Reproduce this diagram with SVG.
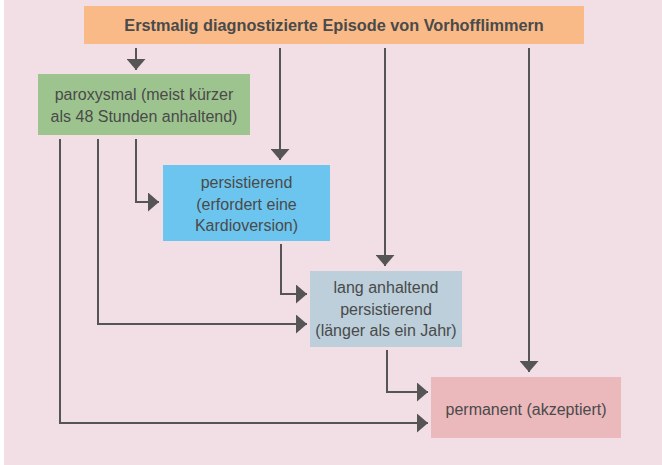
<svg xmlns="http://www.w3.org/2000/svg" width="662" height="465" viewBox="0 0 662 465">
<style>
.t{font-family:"Liberation Sans",Arial,sans-serif;font-size:16px;fill:#4a4a4a;text-anchor:middle}
.b{font-weight:bold;font-size:16.3px}
.c{fill:none;stroke:#555555;stroke-width:2}
</style>
<defs>
<marker id="ah" markerUnits="userSpaceOnUse" markerWidth="11" markerHeight="19" refX="11" refY="9.5" orient="auto" viewBox="0 0 11 19">
<path d="M0,0 L11,9.5 L0,19 z" fill="#555555"/>
</marker>
</defs>
<rect x="0" y="0" width="662" height="465" fill="#ffffff"/>
<rect x="4" y="0" width="658" height="465" fill="#f2dfe5"/>
<g id="connectors">
<path class="c" d="M136,48 V70" marker-end="url(#ah)"/>
<path class="c" d="M280,48 V160" marker-end="url(#ah)"/>
<path class="c" d="M385,48 V266" marker-end="url(#ah)"/>
<path class="c" d="M529,48 V372" marker-end="url(#ah)"/>
<path class="c" d="M136,139 V202 H159" marker-end="url(#ah)"/>
<path class="c" d="M98,139 V324 H307" marker-end="url(#ah)"/>
<path class="c" d="M60,139 V423 H428" marker-end="url(#ah)"/>
<path class="c" d="M281,244 V294 H307" marker-end="url(#ah)"/>
<path class="c" d="M387,350 V392 H428" marker-end="url(#ah)"/>
</g>
<g id="start">
<rect x="84" y="6" width="500" height="38" fill="#f9ba87"/>
<text class="t b" x="334" y="31">Erstmalig diagnostizierte Episode von Vorhofflimmern</text>
</g>
<g id="paroxysmal">
<rect x="38" y="74" width="212" height="61" fill="#9dc48e"/>
<text class="t" x="144" y="100">paroxysmal (meist kürzer</text>
<text class="t" x="144" y="122">als 48 Stunden anhaltend)</text>
</g>
<g id="persistierend">
<rect x="163" y="165" width="167" height="76" fill="#6cc5ef"/>
<text class="t" x="246.5" y="188">persistierend</text>
<text class="t" x="246.5" y="209.5">(erfordert eine</text>
<text class="t" x="246.5" y="231">Kardioversion)</text>
</g>
<g id="lang">
<rect x="310" y="271" width="152" height="76" fill="#bccfdb"/>
<text class="t" x="386" y="293">lang anhaltend</text>
<text class="t" x="386" y="315">persistierend</text>
<text class="t" x="386" y="336">(länger als ein Jahr)</text>
</g>
<g id="permanent">
<rect x="431" y="377" width="190" height="61" fill="#ebb8bc"/>
<text class="t" x="526" y="415">permanent (akzeptiert)</text>
</g>
</svg>
